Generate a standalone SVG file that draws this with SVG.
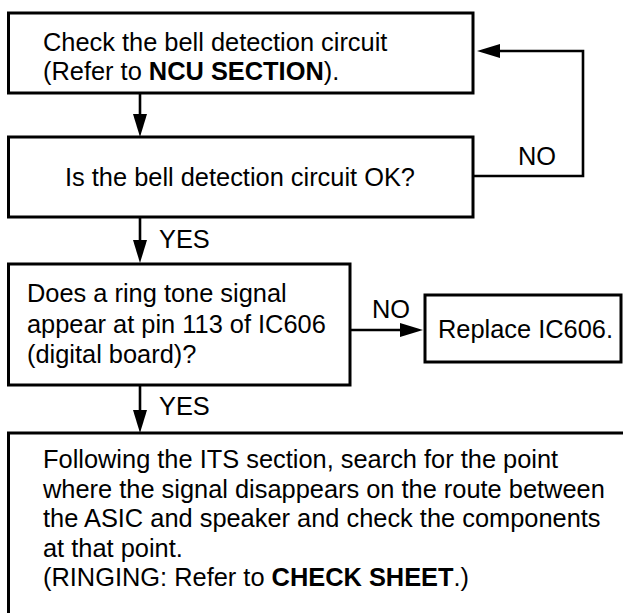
<svg xmlns="http://www.w3.org/2000/svg" width="623" height="613" viewBox="0 0 623 613">
<style>
  .box{fill:#fff;stroke:#000;stroke-width:3}
  .t{font-family:"Liberation Sans",Arial,Helvetica,sans-serif;font-size:25.4px;fill:#000}
  .b{font-weight:bold}
  .c{fill:none;stroke:#000;stroke-width:2.6}
</style>
<defs>
  <marker id="ah" viewBox="0 0 23 14" refX="0" refY="7" markerWidth="23" markerHeight="14" markerUnits="userSpaceOnUse" orient="auto">
    <path d="M0,0 L23,7 L0,14 z" fill="#000"/>
  </marker>
</defs>
<rect width="623" height="613" fill="#fff"/>
<g id="connectors">
  <path class="c" d="M140 93 V114" marker-end="url(#ah)"/>
  <path class="c" d="M473 176 H583 V51 H500" marker-end="url(#ah)"/>
  <path class="c" d="M140 217 V240" marker-end="url(#ah)"/>
  <path class="c" d="M350 330 H400" marker-end="url(#ah)"/>
  <path class="c" d="M140 385 V410" marker-end="url(#ah)"/>
  <text class="t" x="518" y="165">NO</text>
  <text class="t" x="159" y="248">YES</text>
  <text class="t" x="372" y="318">NO</text>
  <text class="t" x="159" y="415">YES</text>
</g>
<g id="n1">
  <rect class="box" x="8.5" y="13" width="464.5" height="80"/>
  <text class="t" x="43" y="51">Check the bell detection circuit</text>
  <text class="t" x="43" y="80">(Refer to <tspan class="b">NCU SECTION</tspan>).</text>
</g>
<g id="n2">
  <rect class="box" x="8.5" y="137" width="464.5" height="80"/>
  <text class="t" x="240" y="186" text-anchor="middle">Is the bell detection circuit OK?</text>
</g>
<g id="n3">
  <rect class="box" x="8.5" y="264" width="341.5" height="121"/>
  <text class="t" x="27" y="302">Does a ring tone signal</text>
  <text class="t" x="27" y="332.5">appear at pin 113 of IC606</text>
  <text class="t" x="27" y="363">(digital board)?</text>
</g>
<g id="n4">
  <rect class="box" x="425" y="295" width="196" height="67"/>
  <text class="t" x="438" y="337.5">Replace IC606.</text>
</g>
<g id="n5">
  <rect class="box" x="8.5" y="433" width="700" height="300"/>
  <text class="t" x="43" y="468">Following the ITS section, search for the point</text>
  <text class="t" x="43" y="497.5">where the signal disappears on the route between</text>
  <text class="t" x="43" y="527">the ASIC and speaker and check the components</text>
  <text class="t" x="43" y="556.5">at that point.</text>
  <text class="t" x="43" y="586">(RINGING: Refer to <tspan class="b">CHECK SHEET</tspan>.)</text>
</g>
</svg>
